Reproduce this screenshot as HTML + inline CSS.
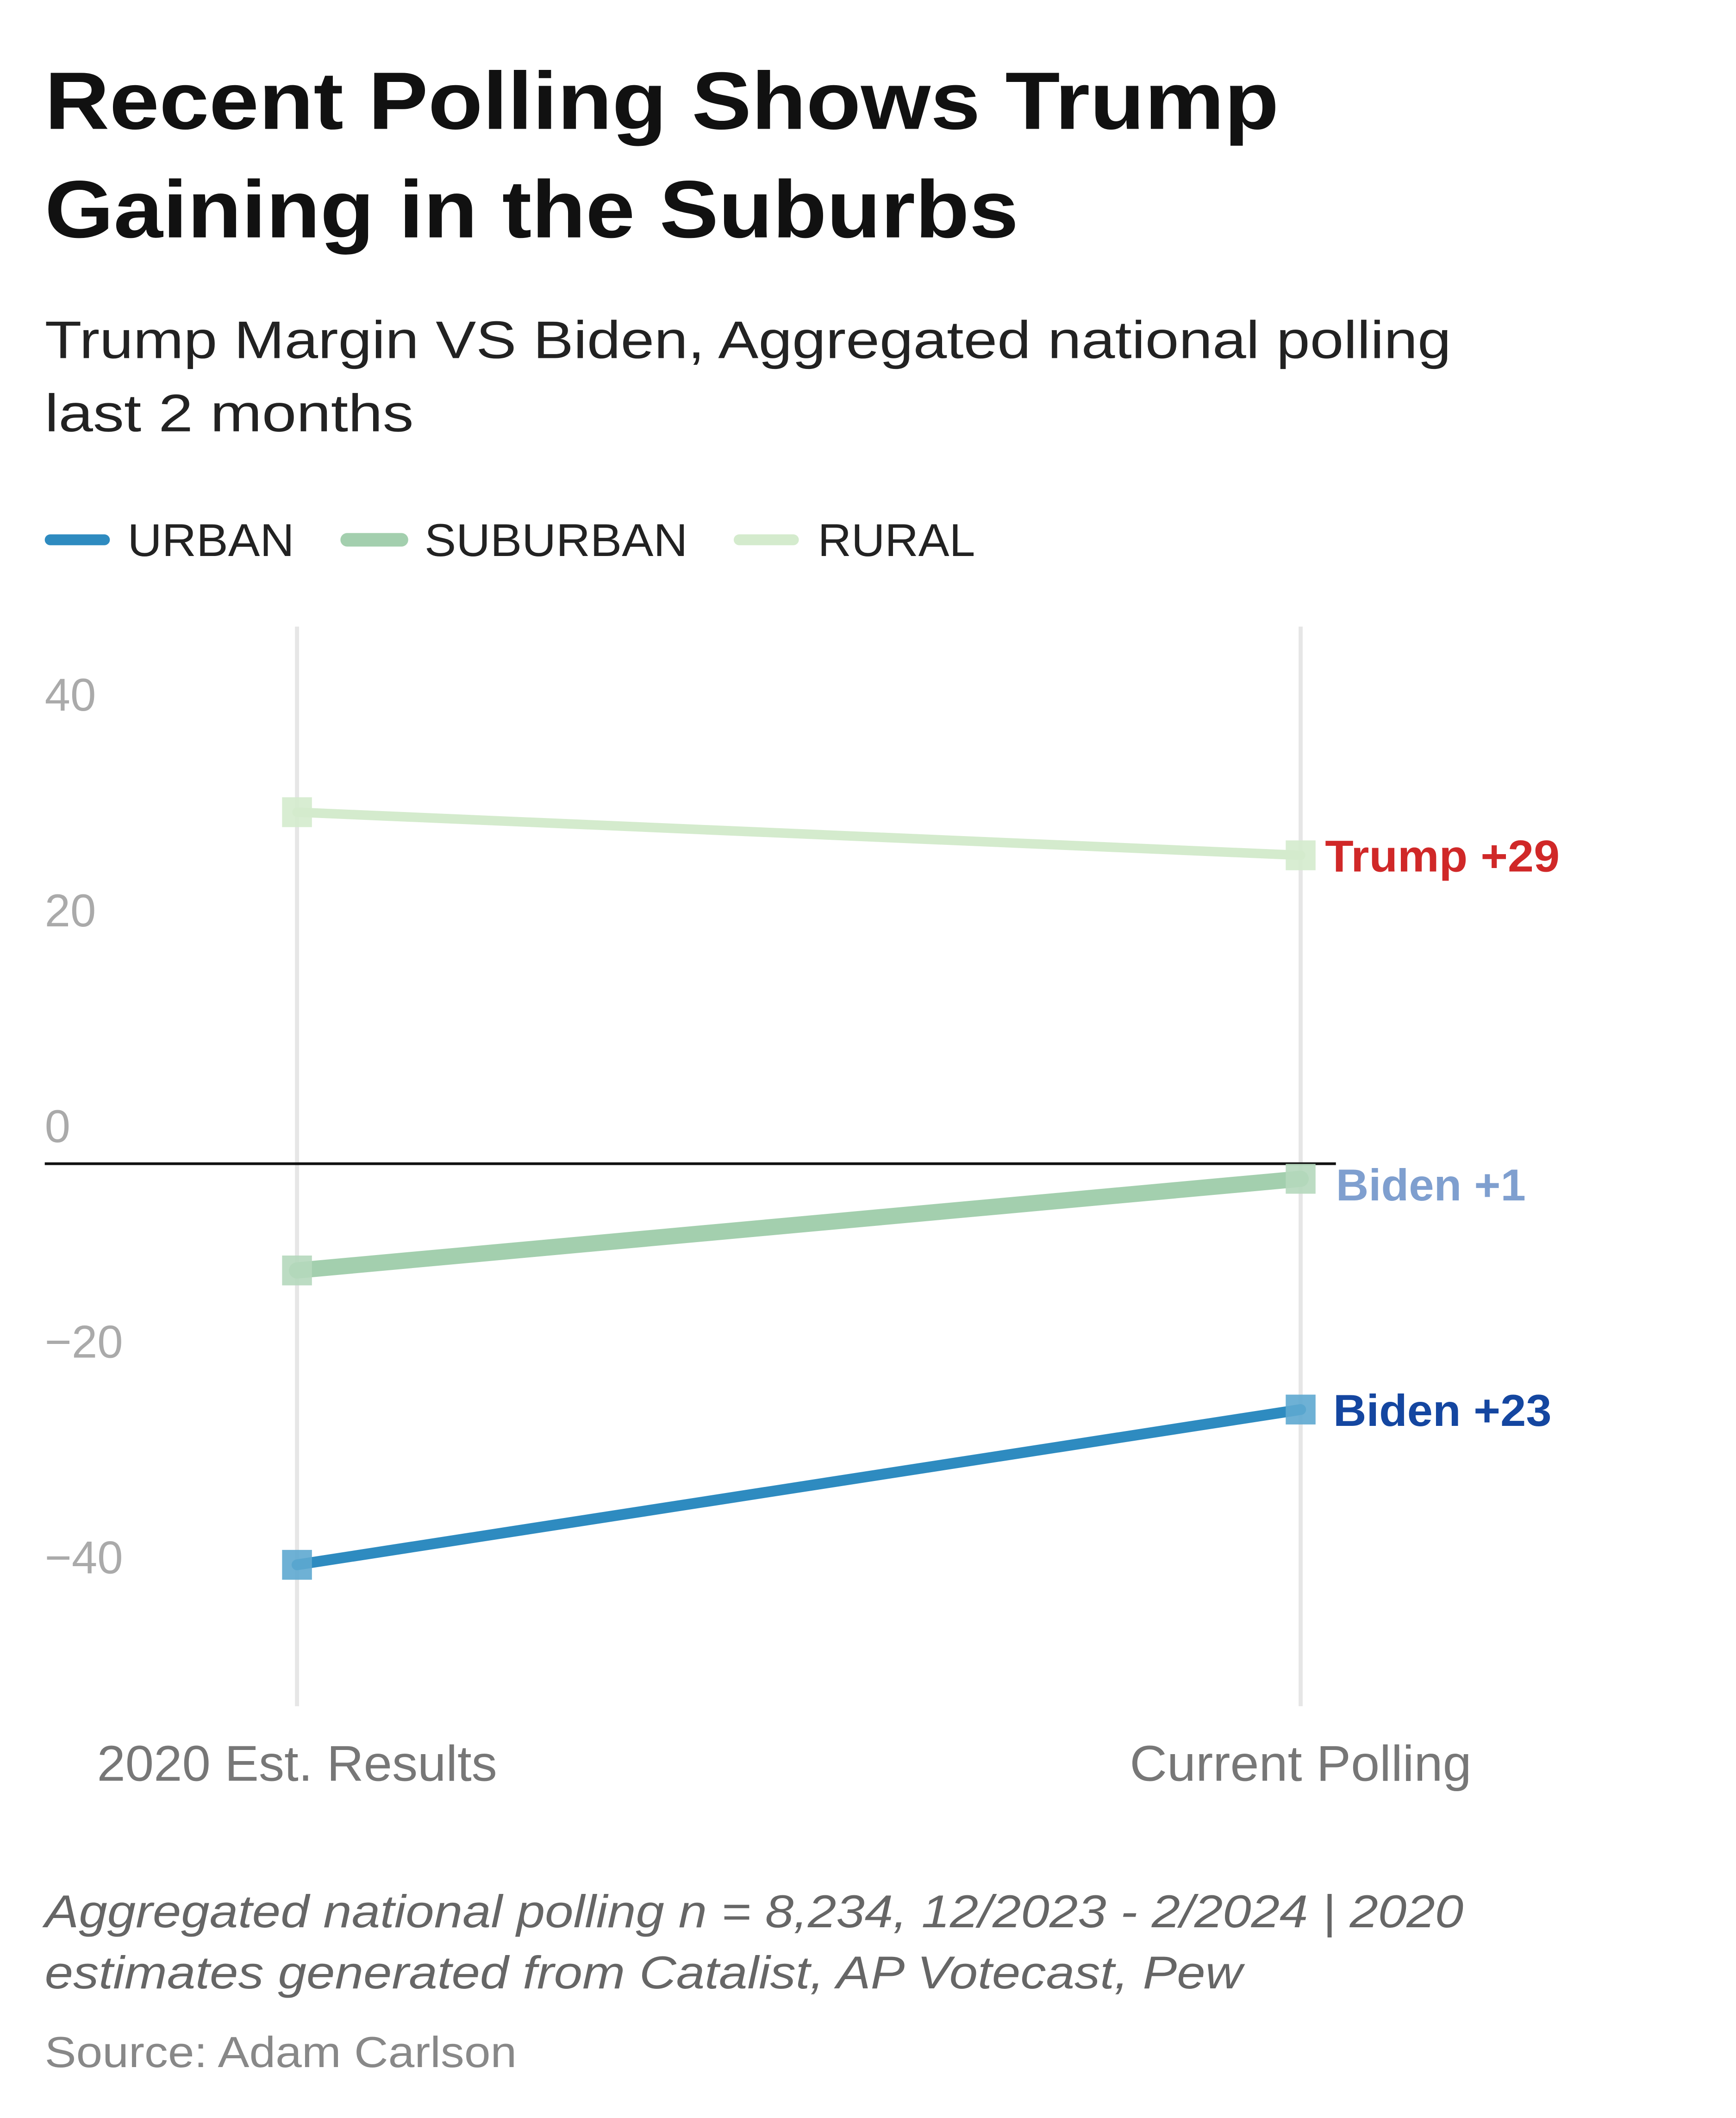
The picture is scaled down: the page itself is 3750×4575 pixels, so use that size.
<!DOCTYPE html>
<html><head><meta charset="utf-8"><style>
html,body{margin:0;padding:0;background:#fff;}
svg{display:block;}
text{font-family:"Liberation Sans",sans-serif;}
</style></head><body>
<svg id="chart" width="3750" height="4575" viewBox="0 0 1280 1561.6" xmlns="http://www.w3.org/2000/svg">
<rect width="1280" height="1561.6" fill="#fff"/>
<text x="33" y="95" font-size="60" font-weight="bold" fill="#111" textLength="910" lengthAdjust="spacingAndGlyphs">Recent Polling Shows Trump</text>
<text x="33" y="175" font-size="60" font-weight="bold" fill="#111" textLength="718" lengthAdjust="spacingAndGlyphs">Gaining in the Suburbs</text>
<text x="33" y="264" font-size="39" fill="#222" textLength="1037" lengthAdjust="spacingAndGlyphs">Trump Margin VS Biden, Aggregated national polling</text>
<text x="33" y="318" font-size="39" fill="#222" textLength="272" lengthAdjust="spacingAndGlyphs">last 2 months</text>
<g>
<line x1="37" y1="398" x2="77" y2="398" stroke="#2e8bc0" stroke-width="8" stroke-linecap="round"/>
<text x="94" y="410" font-size="34" fill="#222" textLength="123" lengthAdjust="spacingAndGlyphs">URBAN</text>
<line x1="256" y1="398" x2="296" y2="398" stroke="#a3cfae" stroke-width="10" stroke-linecap="round"/>
<text x="313" y="410" font-size="34" fill="#222" textLength="194" lengthAdjust="spacingAndGlyphs">SUBURBAN</text>
<line x1="545" y1="398" x2="585" y2="398" stroke="#d4ebcd" stroke-width="8" stroke-linecap="round"/>
<text x="603" y="410" font-size="34" fill="#222" textLength="116" lengthAdjust="spacingAndGlyphs">RURAL</text>
</g>
<g id="plot"></g>
<text x="33" y="1421" font-size="34" font-style="italic" fill="#666" textLength="1046" lengthAdjust="spacingAndGlyphs">Aggregated national polling n = 8,234, 12/2023 - 2/2024 | 2020</text>
<text x="33" y="1466" font-size="34" font-style="italic" fill="#666" textLength="883" lengthAdjust="spacingAndGlyphs">estimates generated from Catalist, AP Votecast, Pew</text>
<text x="33" y="1524" font-size="32" fill="#888" textLength="348" lengthAdjust="spacingAndGlyphs">Source: Adam Carlson</text>
</svg>
<script>
const categories = ["2020 Est. Results", "Current Polling"];
const urban = [-37.2, -22.8];
const suburban = [-9.9, -1.4];
const rural = [32.6, 28.6];
const yTicks = [40, 20, 0, -20, -40];
const yTickLabels = ["40", "20", "0", "\u221220", "\u221240"];
const endLabels = ["Trump +29", "Biden +1", "Biden +23"];

const NS = "http://www.w3.org/2000/svg";
const g = document.getElementById("plot");
function y(v){ return 858 - v * 7.95; }
function x(i){ return 219 + i * 740; }
function mk(tag, attrs){ const e = document.createElementNS(NS, tag); for (const k in attrs) e.setAttribute(k, attrs[k]); g.appendChild(e); return e; }
const xLabelW = [295, 252];
const endW = [173, 140, 161];
const endX = [977, 985, 983];

categories.forEach((c, i) => {
  const l = mk("line", {x1:x(i), x2:x(i), y1:462, y2:1258, stroke:"#e6e6e6", "stroke-width":3});
  
  
  const t = mk("text", {x:x(i), y:1313, "font-size":37, fill:"#777", "text-anchor":"middle", textLength:xLabelW[i], lengthAdjust:"spacingAndGlyphs"});
  t.textContent = c;
  
  
});
yTicks.forEach((v, i) => {
  const t = mk("text", {x:33, y:y(v) - 16, "font-size":34, fill:"#aaa"});
  t.textContent = yTickLabels[i];
  
  
});
const zl = mk("line", {x1:33, x2:985, y1:y(0), y2:y(0), stroke:"#111", "stroke-width":2});



const series = [
  {d:rural, c:"#d4ebcd", m:"#d4ebcd", w:7, name:"rural", lc:"#d02828", ly:0},
  {d:suburban, c:"#a3cfae", m:"#b5d8bd", w:12, name:"suburban", lc:"#7f9fcf", ly:4},
  {d:urban, c:"#2e8bc0", m:"#5ea8d0", w:8, name:"urban", lc:"#1446a0", ly:0}
];
series.forEach((s, si) => {
  const ln = mk("line", {x1:x(0), y1:y(s.d[0]), x2:x(1), y2:y(s.d[1]), stroke:s.c, "stroke-width":s.w, "stroke-linecap":"round"});
  
  
  s.d.forEach((v, i) => {
    const r = mk("rect", {x:x(i) - 11, y:y(v) - 11, width:22, height:22, fill:s.m, opacity:0.9});
    
    
  });
  const t = mk("text", {x:endX[si], y:y(s.d[1]) + 12 + s.ly, "font-size":33, "font-weight":"bold", fill:s.lc, textLength:endW[si], lengthAdjust:"spacingAndGlyphs"});
  t.textContent = endLabels[si];
  
  
});
</script>
</body></html>
